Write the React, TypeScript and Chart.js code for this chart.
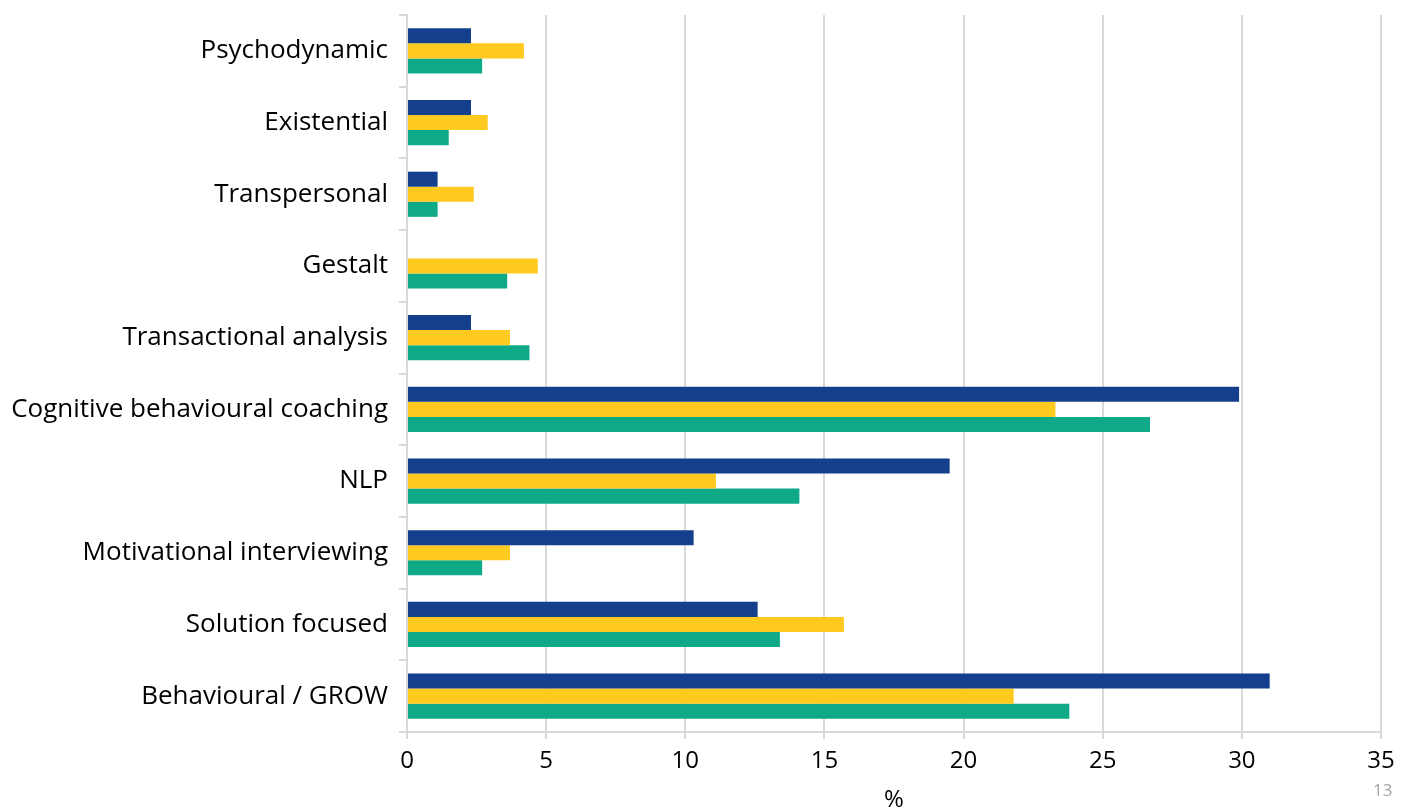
import React, { useEffect, useRef } from "react";
import { Chart, registerables } from "chart.js";

Chart.register(...registerables);

const categories = [
  "Psychodynamic",
  "Existential",
  "Transpersonal",
  "Gestalt",
  "Transactional analysis",
  "Cognitive behavioural coaching",
  "NLP",
  "Motivational interviewing",
  "Solution focused",
  "Behavioural / GROW",
];

const seriesBlue = [2.3, 2.3, 1.1, 0, 2.3, 29.9, 19.5, 10.3, 12.6, 31.0];
const seriesYellow = [4.2, 2.9, 2.4, 4.7, 3.7, 23.3, 11.1, 3.7, 15.7, 21.8];
const seriesGreen = [2.7, 1.5, 1.1, 3.6, 4.4, 26.7, 14.1, 2.7, 13.4, 23.8];

const xTicks = [0, 5, 10, 15, 20, 25, 30, 35];
const axisTitle = "%";
const pageNumber = "13";

const FONT = "'Open Sans', 'Noto Sans', sans-serif";

export default function App() {
  const canvasRef = useRef<HTMLCanvasElement | null>(null);

  useEffect(() => {
    document.body.style.margin = "0";
    const canvas = canvasRef.current;
    if (!canvas) return;
    const chart = new Chart(canvas, {
      type: "bar",
      data: {
        labels: categories,
        datasets: [
          { label: "Series 1", data: seriesBlue, backgroundColor: "#143F8C" },
          { label: "Series 2", data: seriesYellow, backgroundColor: "#FFCA1F" },
          { label: "Series 3", data: seriesGreen, backgroundColor: "#0EA987" },
        ],
      },
      options: {
        indexAxis: "y",
        responsive: false,
        animation: false,
        maintainAspectRatio: false,
        layout: { padding: { top: 15, right: 37, left: 0, bottom: 0 } },
        datasets: {
          bar: { categoryPercentage: 0.63, barPercentage: 1.0 },
        },
        plugins: {
          legend: { display: false },
          tooltip: { enabled: false },
        },
        scales: {
          x: {
            min: 0,
            max: 35,
            afterBuildTicks: (scale: any) => {
              scale.ticks = xTicks.map((v) => ({ value: v }));
            },
            afterFit: (scale: any) => {
              scale.height = 78;
              scale.paddingLeft = 0;
              scale.paddingRight = 0;
            },
            grid: {
              color: "#d9d9d9",
              lineWidth: 2,
              tickLength: 7,
            },
            border: { color: "#d9d9d9", width: 2 },
            ticks: {
              color: "#000",
              font: { family: FONT, size: 24 },
              padding: 8,
              maxRotation: 0,
            },
            title: {
              display: true,
              text: axisTitle,
              color: "#000",
              font: { family: FONT, size: 24, lineHeight: 0.8 },
              padding: { top: 0, bottom: 0 },
            },
          },
          y: {
            afterFit: (scale: any) => {
              scale.width = 407;
              scale.paddingTop = 0;
              scale.paddingBottom = 0;
            },
            grid: {
              offset: true,
              drawOnChartArea: false,
              color: "#d9d9d9",
              lineWidth: 2,
              tickLength: 8,
            },
            border: { color: "#d9d9d9", width: 2 },
            ticks: {
              color: "#000",
              font: { family: FONT, size: 26 },
              padding: 11,
            },
          },
        },
      },
    });
    return () => chart.destroy();
  }, []);

  return (
    <div style={{ position: "relative", width: 1418, height: 810, background: "#fff" }}>
      <canvas ref={canvasRef} width={1418} height={810} style={{ display: "block" }} />
      <div
        style={{
          position: "absolute",
          left: 1373,
          top: 778,
          fontFamily: FONT,
          fontSize: 17,
          color: "#a6a6a6",
        }}
      >
        {pageNumber}
      </div>
    </div>
  );
}
